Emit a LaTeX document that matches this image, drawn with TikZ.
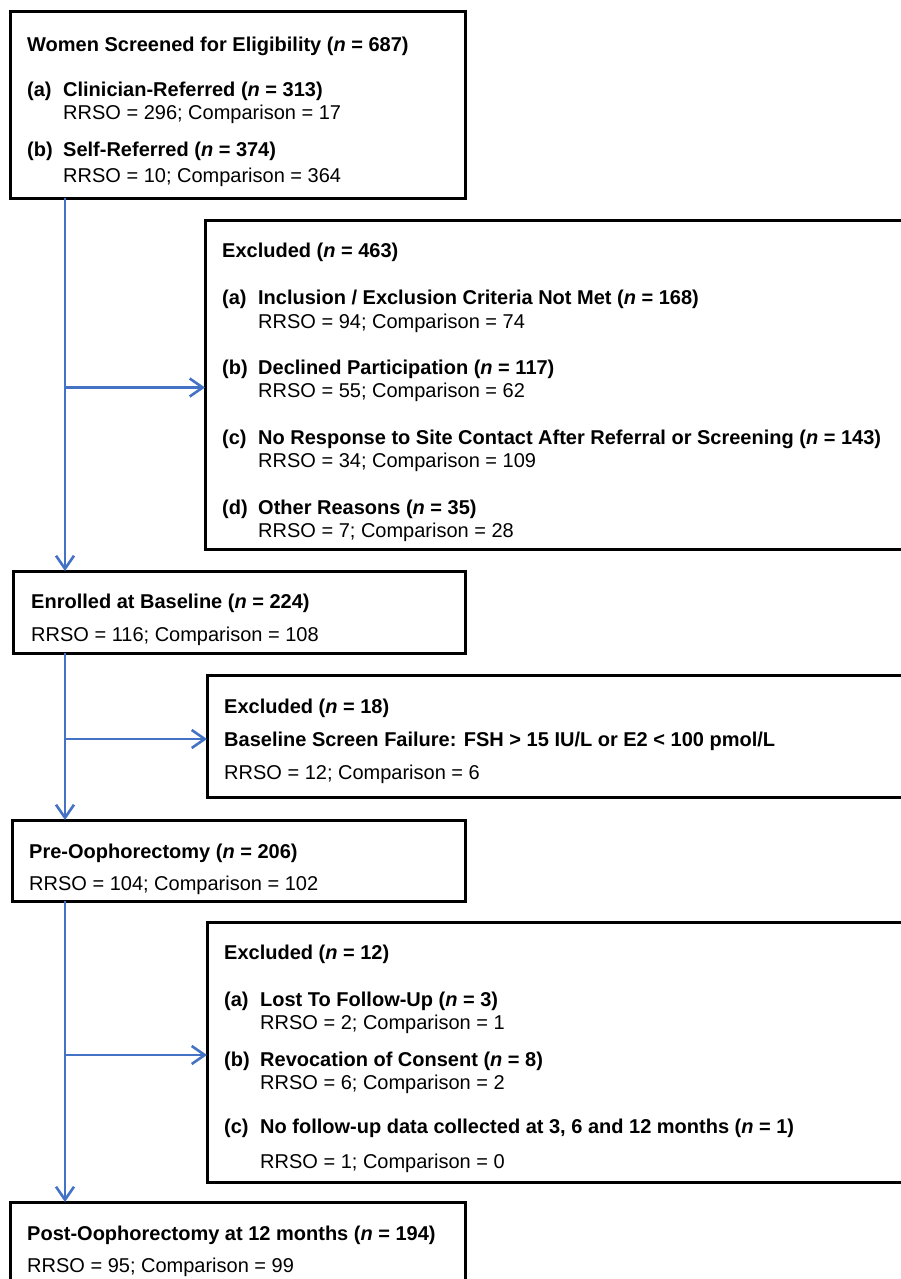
\documentclass[tikz,border=0pt]{standalone}
\usepackage{fontspec}
\setmainfont{Liberation Sans}
\usepackage{tikz}
\usetikzlibrary{positioning,arrows.meta}
\usepackage{xcolor}
\definecolor{flowblue}{RGB}{68,114,196}
\newcommand{\nn}{\textit{n}}
\newcommand{\lbl}[1]{\makebox[36pt][l]{\textbf{#1}}}

\begin{document}
\begin{tikzpicture}[x=1pt, y=-1pt,
  box/.style={draw=black, line width=3pt, inner sep=0pt, outer sep=0pt, anchor=north west},
  txt/.style={anchor=base west, inner sep=0pt, font=\fontsize{20}{24}\selectfont},
  flow/.style={draw=flowblue, line width=2.6pt, -{Straight Barb[length=13pt,width=18pt]}}]
 \useasboundingbox (0,0) rectangle (901,1279);
 \clip (0,0) rectangle (901,1279);
 % boxes
 \node[box, minimum width=455pt, minimum height=186pt] (screen) at (10,12) {};
 \node[box, minimum width=715pt, minimum height=329pt] (excl1) at (205,220) {};
 \node[box, minimum width=452pt, minimum height=82pt] (enrolled) at (13,571) {};
 \node[box, minimum width=713pt, minimum height=122pt] (excl2) at (207,675) {};
 \node[box, minimum width=453pt, minimum height=81pt] (preop) at (12,820) {};
 \node[box, minimum width=713pt, minimum height=260pt] (excl3) at (207,922) {};
 \node[box, minimum width=455pt, minimum height=100pt] (postop) at (10,1202) {};
 % screened
 \node[txt] (screenT) at (27,52) {\textbf{Women Screened for Eligibility (\nn{} = 687)}};
 \node[txt] (screenA) at (27,97) {\lbl{(a)}\textbf{Clinician-Referred (\nn{} = 313)}};
 \node[txt] (screenAr) at (63,120) {RRSO = 296; Comparison = 17};
 \node[txt] (screenB) at (27,157) {\lbl{(b)}\textbf{Self-Referred (\nn{} = 374)}};
 \node[txt] (screenBr) at (63,182) {RRSO = 10; Comparison = 364};
 % first exclusion
 \node[txt] (excl1T) at (222,257) {\textbf{Excluded (\nn{} = 463)}};
 \node[txt] (excl1A) at (222,304) {\lbl{(a)}\textbf{Inclusion / Exclusion Criteria Not Met (\nn{} = 168)}};
 \node[txt] (excl1Ar) at (258,328) {RRSO = 94; Comparison = 74};
 \node[txt] (excl1B) at (222,374) {\lbl{(b)}\textbf{Declined Participation (\nn{} = 117)}};
 \node[txt] (excl1Br) at (258,397) {RRSO = 55; Comparison = 62};
 \node[txt] (excl1C) at (222,444) {\lbl{(c)}\textbf{No Response to Site Contact After Referral or Screening (\nn{} = 143)}};
 \node[txt] (excl1Cr) at (258,467) {RRSO = 34; Comparison = 109};
 \node[txt] (excl1D) at (222,514) {\lbl{(d)}\textbf{Other Reasons (\nn{} = 35)}};
 \node[txt] (excl1Dr) at (258,537) {RRSO = 7; Comparison = 28};
 % enrolled
 \node[txt] (enrolledT) at (31,608) {\textbf{Enrolled at Baseline (\nn{} = 224)}};
 \node[txt] (enrolledR) at (31,641) {RRSO = 116; Comparison = 108};
 % second exclusion
 \node[txt] (excl2T) at (224,713) {\textbf{Excluded (\nn{} = 18)}};
 \node[txt] (excl2A) at (224,746) {\textbf{Baseline Screen Failure: FSH > 15 IU/L or E2 < 100 pmol/L}};
 \node[txt] (excl2R) at (224,779) {RRSO = 12; Comparison = 6};
 % pre-oophorectomy
 \node[txt] (preopT) at (29,858) {\textbf{Pre-Oophorectomy (\nn{} = 206)}};
 \node[txt] (preopR) at (29,890) {RRSO = 104; Comparison = 102};
 % third exclusion
 \node[txt] (excl3T) at (224,959) {\textbf{Excluded (\nn{} = 12)}};
 \node[txt] (excl3A) at (224,1006) {\lbl{(a)}\textbf{Lost To Follow-Up (\nn{} = 3)}};
 \node[txt] (excl3Ar) at (260,1029) {RRSO = 2; Comparison = 1};
 \node[txt] (excl3B) at (224,1066) {\lbl{(b)}\textbf{Revocation of Consent (\nn{} = 8)}};
 \node[txt] (excl3Br) at (260,1089) {RRSO = 6; Comparison = 2};
 \node[txt] (excl3C) at (224,1133) {\lbl{(c)}\textbf{No follow-up data collected at 3, 6 and 12 months (\nn{} = 1)}};
 \node[txt] (excl3Cr) at (260,1168) {RRSO = 1; Comparison = 0};
 % post-oophorectomy
 \node[txt] (postopT) at (27,1240) {\textbf{Post-Oophorectomy at 12 months (\nn{} = 194)}};
 \node[txt] (postopR) at (27,1272) {RRSO = 95; Comparison = 99};
 % flow lines
 \coordinate (trunk) at (65,0);
 \draw[flow] (trunk |- screen.south) -- (trunk |- enrolled.north);
 \draw[flow] ([yshift=-3pt]trunk |- excl1.west) -- ([yshift=-3pt]excl1.west);
 \draw[flow] (trunk |- enrolled.south) -- (trunk |- preop.north);
 \draw[flow] ([yshift=-3pt]trunk |- excl2.west) -- ([yshift=-3pt]excl2.west);
 \draw[flow] (trunk |- preop.south) -- (trunk |- postop.north);
 \draw[flow] ([yshift=-3pt]trunk |- excl3.west) -- ([yshift=-3pt]excl3.west);
\end{tikzpicture}
\end{document}
